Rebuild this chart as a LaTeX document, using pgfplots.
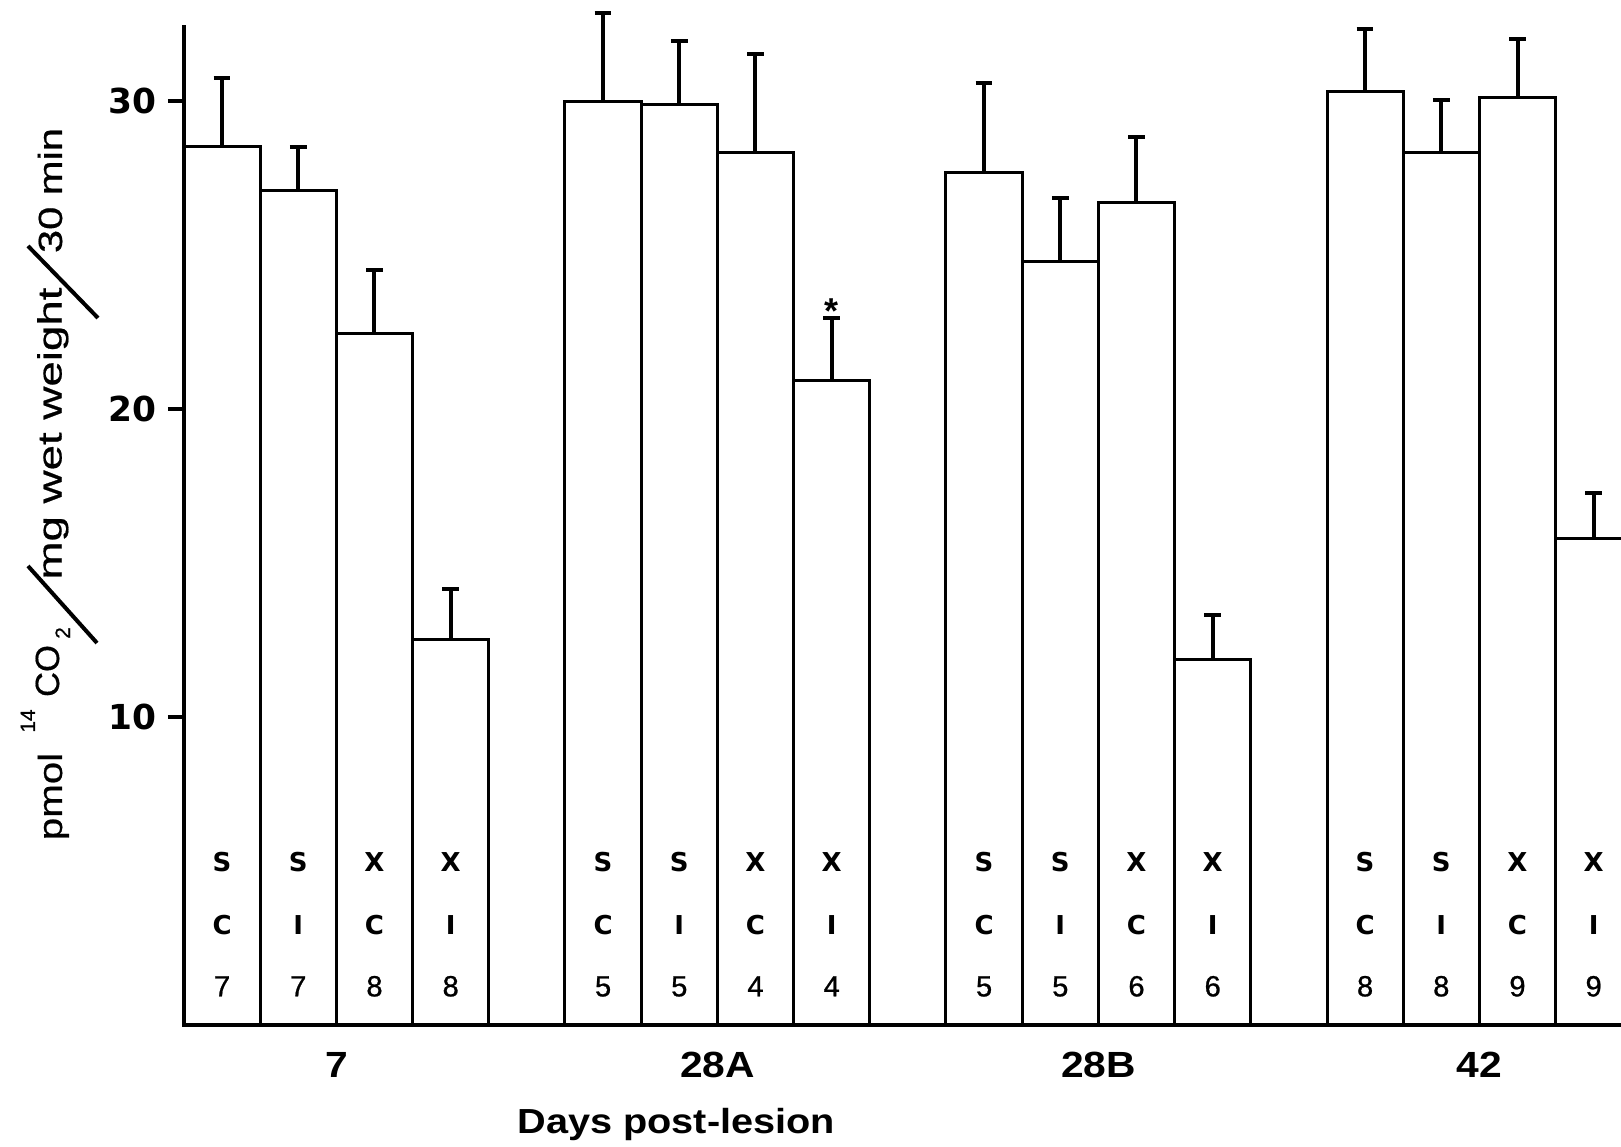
\documentclass[border=0pt]{standalone}
\usepackage{fontspec}
\setmainfont{Liberation Sans}
\newfontfamily\dvs{DejaVu Sans}
\newfontfamily\numf[FakeBold=0.8]{Liberation Sans}
\newfontfamily\labf[FakeBold=0.5]{Liberation Sans}
\usepackage{graphicx}
\usepackage{pgfplots}
\pgfplotsset{compat=1.18}

\begin{document}
\begin{tikzpicture}
\path[use as bounding box] (-46pt,-30.5pt) rectangle (359.25pt,256.25pt);
\begin{axis}[
  anchor=origin, at={(0pt,0pt)},
  x=19.05pt, y=7.70pt,
  xmin=0, xmax=18.86, ymin=0, ymax=33.28,
  axis x line*=bottom, axis y line*=left,
  y axis line style={draw=none},
  x axis line style={line width=1pt},
  xtick=\empty,
  ytick={10,20,30},
  yticklabels={10,20,30},
  /pgf/number format/assume math mode=true,
  yticklabel style={font=\dvs\bfseries\fontsize{8.6}{9}\selectfont, inner sep=0pt, xshift=-2.8pt},
  tick align=outside, major tick length=4pt,
  major tick style={line width=0.8pt, black},
  clip=true,
  axis on top,
]
\addplot[ybar, bar width=19.05pt, bar shift=0pt, draw=black, fill=white, line width=0.75pt,
  error bars/.cd, y dir=plus, y explicit,
  error bar style={line width=1pt, black},
  error mark options={rotate=90, mark size=2.1pt, line width=1pt, black}]
coordinates {
(0.5,28.52) +- (0,2.22)
(1.5,27.11) +- (0,1.38)
(2.5,22.45) +- (0,2.05)
(3.5,12.52) +- (0,1.64)
(5.5,29.97) +- (0,2.88)
(6.5,29.90) +- (0,2.05)
(7.5,28.32) +- (0,3.22)
(8.5,20.91) +- (0,2.04)
(10.5,27.68) +- (0,2.89)
(11.5,24.80) +- (0,2.05)
(12.5,26.71) +- (0,2.12)
(13.5,11.88) +- (0,1.44)
(15.5,30.30) +- (0,2.05)
(16.5,28.32) +- (0,1.71)
(17.5,30.10) +- (0,1.91)
(18.5,15.81) +- (0,1.47)
};
\end{axis}
\draw[line width=1pt] (0,-0.5pt) -- (0,249.9pt);
\begin{scope}[x=19.05pt,y=7.70pt]
\foreach \xx/\a/\b/\n in {0.5/S/C/7, 1.5/S/I/7, 2.5/X/C/8, 3.5/X/I/8,
  5.5/S/C/5, 6.5/S/I/5, 7.5/X/C/4, 8.5/X/I/4,
  10.5/S/C/5, 11.5/S/I/5, 12.5/X/C/6, 13.5/X/I/6,
  15.5/S/C/8, 16.5/S/I/8, 17.5/X/C/9, 18.5/X/I/9}{
  \node[anchor=base, inner sep=0pt, font=\dvs\bfseries\fontsize{6.5}{7}\selectfont] at (\xx,4.98) {\a};
  \node[anchor=base, inner sep=0pt, font=\dvs\bfseries\fontsize{6.5}{7}\selectfont] at (\xx,2.95) {\b};
  \node[anchor=base, inner sep=0pt, font=\numf\fontsize{7.3}{8}\selectfont] at (\xx,0.93) {\n};
}
\foreach \xx/\g in {2/7, 7/28A, 12/28B, 17/42}{
  \node[anchor=base, inner sep=0pt, font=\bfseries\fontsize{9.1}{10}\selectfont] at (\xx,-1.70) {\scalebox{1.12}[1]{\g}};
}
\node[anchor=base, inner sep=0pt, font=\bfseries\fontsize{8.7}{10}\selectfont] at (6.46,-3.51) {\scalebox{1.14}[1]{Days post-lesion}};
\node[anchor=base, inner sep=0pt, font=\bfseries\fontsize{9}{10}\selectfont] at (8.5,22.77) {*};
\end{scope}
\begin{scope}[x=0.25pt,y=-0.25pt,shift={(-46pt,256.25pt)}]
\node[rotate=90, anchor=base, inner sep=0pt, font=\labf\fontsize{8.4}{9}\selectfont] at (62,796.5) {\scalebox{1.2}[1]{pmol}};
\node[rotate=90, anchor=base, inner sep=0pt, font=\labf\fontsize{5.2}{6}\selectfont] at (35,721) {14};
\node[rotate=90, anchor=base, inner sep=0pt, font=\labf\fontsize{8.4}{9}\selectfont] at (59,671) {\scalebox{1.03}[1]{CO}};
\node[rotate=90, anchor=base, inner sep=0pt, font=\labf\fontsize{5.2}{6}\selectfont] at (70,633) {2};
\draw[line width=1pt] (28,566) -- (97,643);
\node[rotate=90, anchor=base, inner sep=0pt, font=\labf\fontsize{8.4}{9}\selectfont] at (61.5,433.5) {\scalebox{1.36}[1]{mg wet weight}};
\draw[line width=1pt] (28,246) -- (98,318);
\node[rotate=90, anchor=base, inner sep=0pt, font=\labf\fontsize{8.4}{9}\selectfont] at (62,190.5) {\scalebox{1.24}[1]{30 min}};
\end{scope}
\end{tikzpicture}
\end{document}
